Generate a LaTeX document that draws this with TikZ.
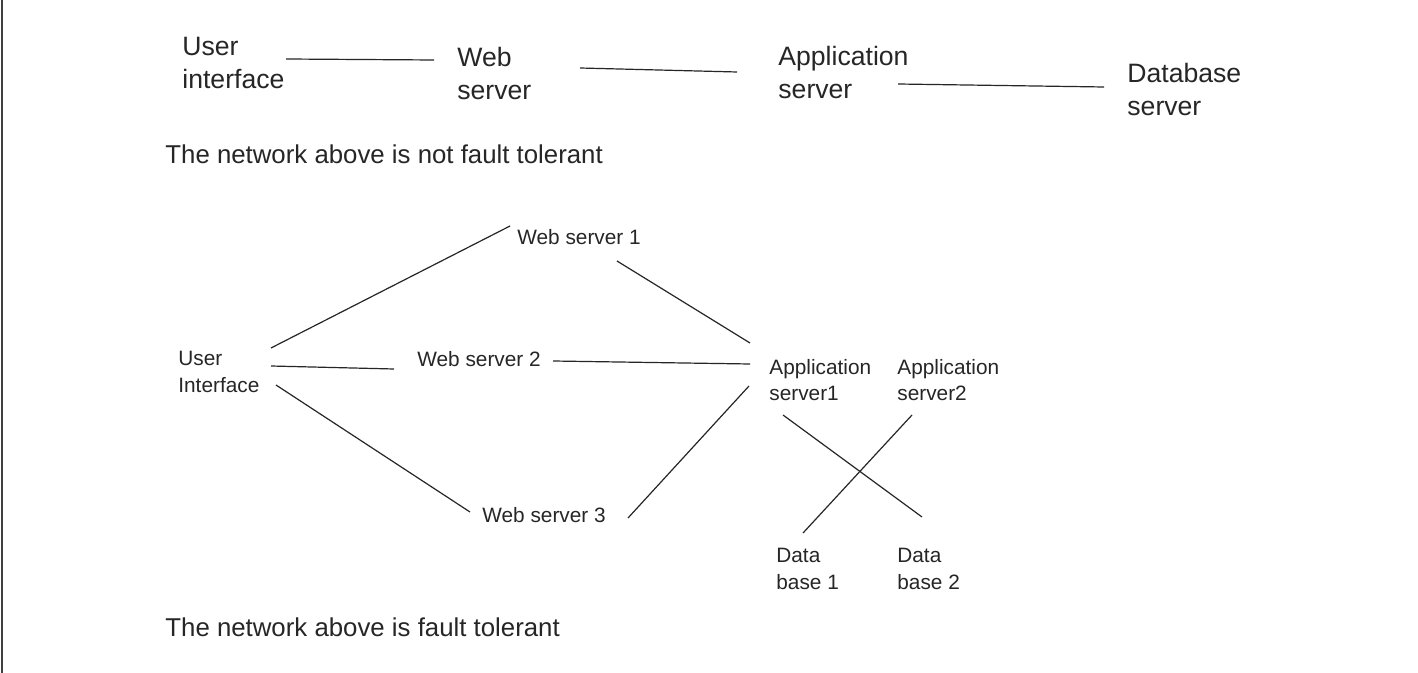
\documentclass[tikz,border=0pt]{standalone}
\usepackage{fontspec}
\setmainfont{Liberation Sans}
\usetikzlibrary{calc}
\begin{document}
\begin{tikzpicture}[x=0.5pt,y=-0.5pt,
  big/.style={inner sep=0pt,align=left,font=\fontsize{13.3}{16.5}\selectfont,text=black!85},
  small/.style={inner sep=0pt,align=left,font=\fontsize{10.4}{13.2}\selectfont,text=black!85},
  captiontext/.style={inner sep=0pt,anchor=base west,font=\fontsize{12.9}{16}\selectfont,text=black!85},
  link/.style={line width=0.6pt,draw=black!85}]
\useasboundingbox (0,0) rectangle (1418,673);
\fill[white] (0,0) rectangle (1418,673);
\draw[line width=1pt,draw=black!75] (1.5,0) -- (1.5,673);
% top
\node[big,anchor=north west] (ui1) at (182,37) {User\\interface};
\node[big,anchor=north west] (ws) at (457,47) {Web\\server};
\node[big,anchor=north west] (app) at (778,46) {Application\\server};
\node[big,anchor=north west] (db) at (1127,63) {Database\\server};
\draw[link] ($(ui1.north west)+(104,22)$) -- ($(ws.north west)+(-23,13)$);
\draw[link] ($(ws.north west)+(123,21)$) -- ($(app.north west)+(-41,26)$);
\draw[link] ($(app.north west)+(120,38)$) -- ($(db.north west)+(-23,24)$);
\node[captiontext] (c1) at (165,164) {The network above is not fault tolerant};
% bottom
\node[small,anchor=north west] (ui2) at (178,351) {User\\Interface};
\node[small,anchor=base west] (ws1) at (517,245) {Web server 1};
\node[small,anchor=base west] (ws2) at (417,367) {Web server 2};
\node[small,anchor=base west] (ws3) at (482,522) {Web server 3};
\node[small,anchor=north west] (as1) at (769,359) {Application\\server1};
\node[small,anchor=north west] (as2) at (897,359) {Application\\server2};
\node[small,anchor=north west] (db1) at (776,548) {Data\\base 1};
\node[small,anchor=north west] (db2) at (897,548) {Data\\base 2};
\draw[link] ($(ui2.north west)+(93,-3)$) -- ($(ws1.base west)+(-7,-19)$);
\draw[link] ($(ui2.north west)+(93,15)$) -- ($(ws2.base west)+(-23,2)$);
\draw[link] ($(ui2.north west)+(98,34)$) -- ($(ws3.base west)+(-12,-10)$);
\draw[link] ($(ws1.base west)+(100,16)$) -- ($(as1.north west)+(-19,-16)$);
\draw[link] ($(ws2.base west)+(136,-6)$) -- ($(as1.north west)+(-19,5)$);
\draw[link] ($(ws3.base west)+(146,-4)$) -- ($(as1.north west)+(-20,27)$);
\draw[link] ($(as1.north west)+(14,56)$) -- ($(db2.north west)+(25,-31)$);
\draw[link] ($(as2.north west)+(15,56)$) -- ($(db1.north west)+(27,-15)$);
\node[captiontext] (c2) at (165,636) {The network above is fault tolerant};
\end{tikzpicture}
\end{document}
